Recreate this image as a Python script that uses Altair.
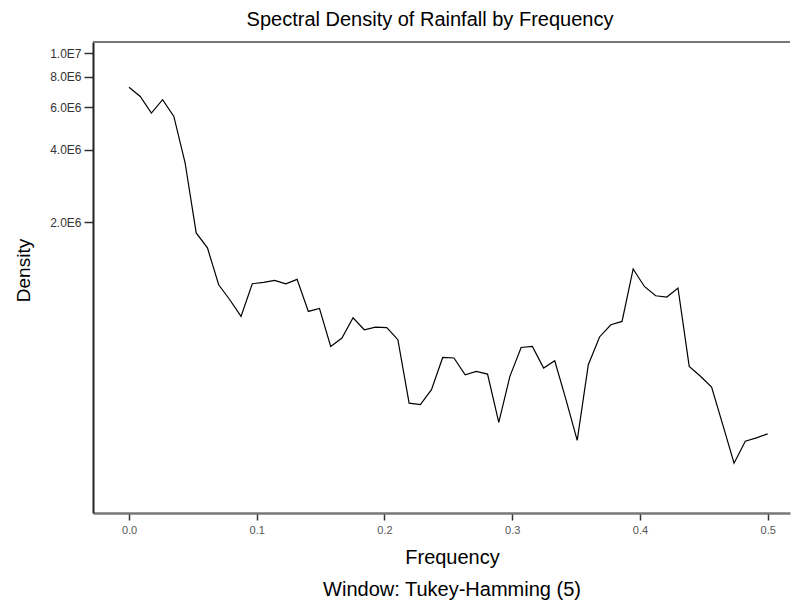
import altair as alt
import pandas as pd

# ---- data ----
frequency = [0.0000, 0.0088, 0.0175, 0.0263, 0.0351, 0.0439, 0.0526, 0.0614, 0.0702, 0.0789,
             0.0877, 0.0965, 0.1053, 0.1140, 0.1228, 0.1316, 0.1404, 0.1491, 0.1579, 0.1667,
             0.1754, 0.1842, 0.1930, 0.2018, 0.2105, 0.2193, 0.2281, 0.2368, 0.2456, 0.2544,
             0.2632, 0.2719, 0.2807, 0.2895, 0.2982, 0.3070, 0.3158, 0.3246, 0.3333, 0.3421,
             0.3509, 0.3596, 0.3684, 0.3772, 0.3860, 0.3947, 0.4035, 0.4123, 0.4211, 0.4298,
             0.4386, 0.4474, 0.4561, 0.4649, 0.4737, 0.4825, 0.4912, 0.5000]
density = [7.25e6, 6.64e6, 5.67e6, 6.44e6, 5.49e6, 3.53e6, 1.81e6, 1.57e6, 1.105e6, 9.58e5,
           8.17e5, 1.116e6, 1.130e6, 1.151e6, 1.114e6, 1.163e6, 8.57e5, 8.82e5, 6.14e5, 6.65e5,
           8.07e5, 7.20e5, 7.38e5, 7.34e5, 6.55e5, 3.58e5, 3.53e5, 4.07e5, 5.53e5, 5.50e5,
           4.69e5, 4.84e5, 4.72e5, 2.98e5, 4.62e5, 6.08e5, 6.14e5, 5.00e5, 5.36e5, 3.70e5,
           2.51e5, 5.16e5, 6.72e5, 7.55e5, 7.79e5, 1.284e6, 1.087e6, 9.95e5, 9.83e5, 1.071e6,
           5.08e5, 4.62e5, 4.17e5, 2.91e5, 2.02e5, 2.49e5, 2.57e5, 2.67e5]
y_ticks = [2.0e6, 4.0e6, 6.0e6, 8.0e6, 1.0e7]
x_ticks = [0.0, 0.1, 0.2, 0.3, 0.4, 0.5]
chart_title = "Spectral Density of Rainfall by Frequency"
x_title = "Frequency"
y_title = "Density"
caption = "Window: Tukey-Hamming (5)"

df = pd.DataFrame({"Frequency": frequency, "Density": density})

FONT = "Liberation Sans"
W, H = 697, 471

line = alt.Chart(df).mark_line(color="black", strokeWidth=1.2, clip=True).encode(
    x=alt.X(
        "Frequency:Q",
        scale=alt.Scale(domain=[-0.0282, 0.5175], nice=False, zero=False),
        axis=alt.Axis(
            values=x_ticks, format=".1f", title=x_title, grid=False,
            tickSize=7, tickColor="#333", tickWidth=1.5,
            domainColor="#777", domainWidth=2.5,
            labelFont=FONT, labelFontSize=11, labelColor="#555", labelPadding=4,
            titleFont=FONT, titleFontSize=20, titleFontWeight="normal", titleColor="black",
            titleX=359, titleY=44, titleAlign="center", titleBaseline="middle",
        ),
    ),
    y=alt.Y(
        "Density:Q",
        scale=alt.Scale(type="log", domain=[1.257e5, 1.115e7], nice=False, zero=False),
        axis=alt.Axis(
            values=y_ticks,
            labelExpr="datum.value >= 9999999 ? '1.0E7' : format(datum.value/1000000, '.1f') + 'E6'",
            title=y_title, grid=False,
            tickSize=9, tickColor="#333", tickWidth=1.5,
            domainColor="#222", domainWidth=2,
            labelFont=FONT, labelFontSize=12, labelColor="#333", labelPadding=3,
            titleFont=FONT, titleFontSize=19, titleFontWeight="normal", titleColor="black",
            titleAngle=270, titleX=-70, titleY=228, titleAlign="center", titleBaseline="middle",
        ),
    ),
)

top_frame = alt.Chart(pd.DataFrame({"a": [0]})).mark_rule(color="#777", strokeWidth=2).encode(
    x=alt.value(0), x2=alt.value(W), y=alt.value(0)
)

title_mark = alt.Chart(pd.DataFrame({"t": [chart_title]})).mark_text(
    font=FONT, fontSize=20, color="black", align="center", baseline="middle"
).encode(text="t:N", x=alt.value(337), y=alt.value(-22))

caption_mark = alt.Chart(pd.DataFrame({"t": [caption]})).mark_text(
    font=FONT, fontSize=20, color="black", align="center", baseline="middle"
).encode(text="t:N", x=alt.value(359), y=alt.value(H + 77))

chart = alt.layer(line, top_frame, title_mark, caption_mark).properties(
    width=W, height=H,
    autosize=alt.AutoSizeParams(type="none"),
    padding={"left": 93, "top": 42, "right": 2, "bottom": 92},
    background="white",
).configure_view(stroke=None)

chart.save("out.html", embed_options={"renderer": "svg", "actions": False})
